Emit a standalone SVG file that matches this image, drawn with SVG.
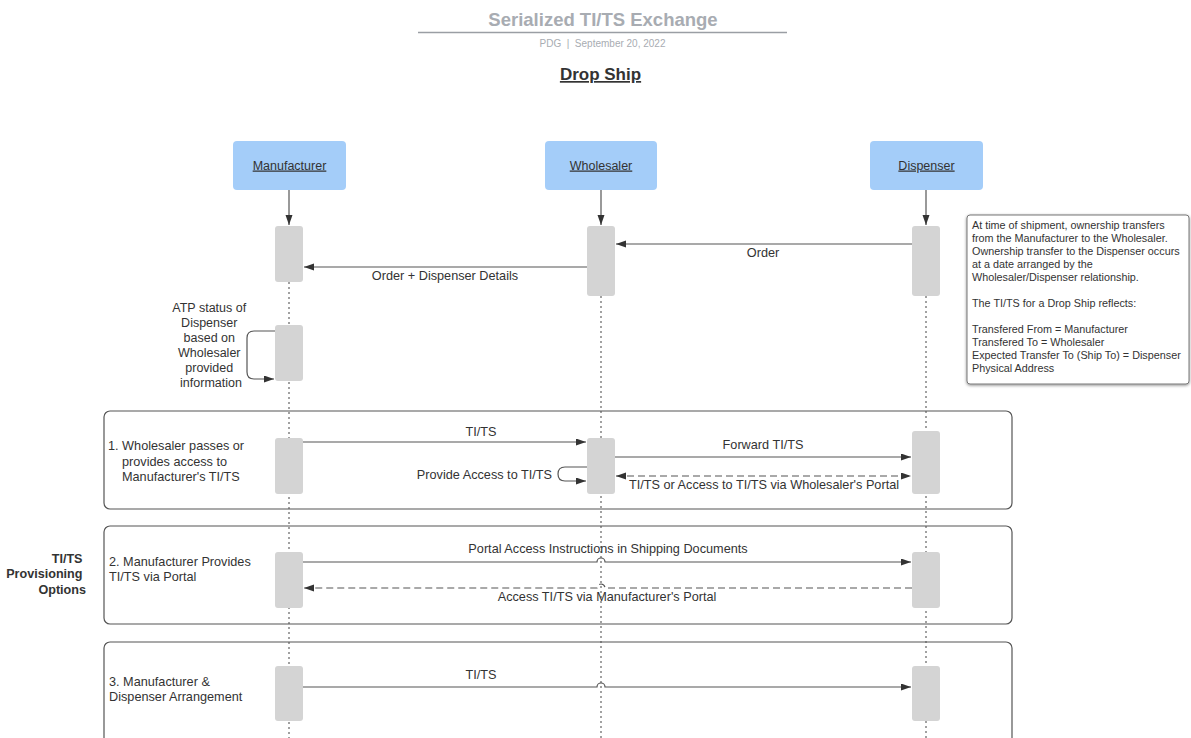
<svg xmlns="http://www.w3.org/2000/svg" width="1191" height="738" viewBox="0 0 1191 738">
<style>
text{font-family:"Liberation Sans",Arial,sans-serif;fill:#333}
.hdr{fill:#a4cdf9}
.hdrt{font-size:12.5px;text-anchor:middle;text-decoration:underline}
.act{fill:#d4d4d4}
.life{stroke:#555;stroke-width:1.1;stroke-dasharray:2 3;fill:none}
.msg{stroke:#555;stroke-width:1.2;fill:none;marker-end:url(#ah)}
.dash{stroke-dasharray:7 4}
.lbl{font-size:12.7px;text-anchor:middle}
.sec{fill:none;stroke:#555;stroke-width:1.2}
.st{font-size:12.7px}
.note{font-size:10.8px}
</style>
<defs>
<marker id="ah" markerUnits="userSpaceOnUse" markerWidth="11" markerHeight="8" refX="10" refY="3.5" orient="auto-start-reverse">
<path d="M0,0 L10,3.5 L0,7 z" fill="#333"/>
</marker>
<filter id="sh" x="-10%" y="-10%" width="120%" height="120%">
<feDropShadow dx="0" dy="1" stdDeviation="1.5" flood-color="#000" flood-opacity="0.45"/>
</filter>
</defs>
<rect width="1191" height="738" fill="#fff"/>

<g id="title">
<text x="603" y="26" font-size="18.5" font-weight="bold" text-anchor="middle" style="fill:#a8acb2">Serialized TI/TS Exchange</text>
<line x1="418" y1="32.5" x2="787" y2="32.5" stroke="#9a9ea4" stroke-width="1.5"/>
<text x="602.5" y="46.5" font-size="10" text-anchor="middle" xml:space="preserve" style="fill:#a8acb2">PDG  |  September 20, 2022</text>
<text x="600.5" y="80" font-size="17" font-weight="bold" text-anchor="middle" text-decoration="underline">Drop Ship</text>
</g>

<g id="sections">
<rect id="section1" class="sec" x="104" y="411" width="908" height="98" rx="6"/>
<rect id="section2" class="sec" x="104" y="526" width="908" height="98" rx="6"/>
<rect id="section3" class="sec" x="104" y="642" width="908" height="120" rx="6"/>
</g>

<g id="lifelines">
<line class="life" x1="289" y1="282" x2="289" y2="738"/>
<line class="life" x1="601" y1="296" x2="601" y2="738"/>
<line class="life" x1="926" y1="296" x2="926" y2="738"/>
</g>

<g id="manufacturer">
<rect class="hdr" x="233" y="141" width="113" height="49" rx="4"/>
<text class="hdrt" x="289.5" y="169.5">Manufacturer</text>
</g>
<g id="wholesaler">
<rect class="hdr" x="545" y="141" width="112" height="49" rx="4"/>
<text class="hdrt" x="601" y="169.5">Wholesaler</text>
</g>
<g id="dispenser">
<rect class="hdr" x="870" y="141" width="113" height="49" rx="4"/>
<text class="hdrt" x="926.5" y="169.5">Dispenser</text>
</g>

<g id="activations">
<rect class="act" x="275" y="226" width="28" height="56" rx="3"/>
<rect class="act" x="587" y="226" width="28" height="70" rx="3"/>
<rect class="act" x="912" y="226" width="28" height="70" rx="3"/>
<rect class="act" x="275" y="325" width="28" height="56" rx="3"/>
<rect class="act" x="275" y="438" width="28" height="56" rx="3"/>
<rect class="act" x="587" y="438" width="28" height="56" rx="3"/>
<rect class="act" x="912" y="431" width="28" height="63" rx="3"/>
<rect class="act" x="275" y="552" width="28" height="56" rx="3"/>
<rect class="act" x="912" y="552" width="28" height="56" rx="3"/>
<rect class="act" x="275" y="666" width="28" height="55" rx="3"/>
<rect class="act" x="912" y="666" width="28" height="55" rx="3"/>
</g>

<g id="connectors">
<path class="msg" d="M289 190 L289 225"/>
<path class="msg" d="M601 190 L601 225"/>
<path class="msg" d="M926 190 L926 225"/>
<path class="msg" d="M912 244 L616 244"/>
<path class="msg" d="M587 267 L304 267"/>
<path class="msg" d="M275 331 L254 331 Q247 331 247 338 L247 372 Q247 379 254 379 L274 379"/>
<path class="msg" d="M303 442 L586 442"/>
<path class="msg" d="M615 457 L911 457"/>
<path class="msg" d="M587 467 L565 467 Q558 467 558 474 Q558 481 565 481 L586 481"/>
<path class="msg dash" style="marker-start:url(#ah)" d="M616 476 L911 476"/>
<path class="msg" d="M303 562 L597 562 A4 4 0 0 1 605 562 L911 562"/>
<path class="msg dash" d="M912 588 L605 588 A4 4 0 0 0 597 588 L304 588"/>
<path class="msg" d="M303 687 L597 687 A4 4 0 0 1 605 687 L911 687"/>
</g>

<g id="labels">
<text class="lbl" x="763" y="257">Order</text>
<text class="lbl" x="445" y="280">Order + Dispenser Details</text>
<text class="lbl" x="481" y="436">TI/TS</text>
<text class="lbl" x="763" y="449">Forward TI/TS</text>
<text class="lbl" x="552" y="478.5" style="text-anchor:end">Provide Access to TI/TS</text>
<text class="lbl" x="764" y="489">TI/TS or Access to TI/TS via Wholesaler's Portal</text>
<text class="lbl" x="608" y="553">Portal Access Instructions in Shipping Documents</text>
<text class="lbl" x="607" y="601">Access TI/TS via Manufacturer's Portal</text>
<text class="lbl" x="481" y="679">TI/TS</text>
</g>

<g id="atp-note">
<text font-size="12.5" text-anchor="middle">
<tspan x="211" y="311.5">ATP status of</tspan>
<tspan x="211" y="326.5">Dispenser</tspan>
<tspan x="211" y="341.5">based on</tspan>
<tspan x="211" y="356.5">Wholesaler</tspan>
<tspan x="211" y="372">provided</tspan>
<tspan x="211" y="387">information</tspan>
</text>
</g>

<g id="section-texts">
<text class="st" x="108" y="450">1. Wholesaler passes or</text>
<text class="st" x="122" y="466">provides access to</text>
<text class="st" x="122" y="481">Manufacturer's TI/TS</text>
<text class="st" x="109" y="566">2. Manufacturer Provides</text>
<text class="st" x="109" y="581">TI/TS via Portal</text>
<text class="st" x="109" y="686">3. Manufacturer &amp;</text>
<text class="st" x="109" y="701">Dispenser Arrangement</text>
</g>

<g id="provisioning-label">
<text font-size="12.6" font-weight="bold" text-anchor="end">
<tspan x="86" y="562.5">TI/TS</tspan>
<tspan x="86" y="578">Provisioning</tspan>
<tspan x="86" y="593.5">Options</tspan>
</text>
</g>

<g id="ownership-note">
<rect x="967" y="215" width="222" height="169" rx="3" fill="#fff" stroke="#777" stroke-width="1" filter="url(#sh)"/>
<text class="note">
<tspan x="972" y="229">At time of shipment, ownership transfers</tspan>
<tspan x="972" y="242">from the Manufacturer to the Wholesaler.</tspan>
<tspan x="972" y="255">Ownership transfer to the Dispenser occurs</tspan>
<tspan x="972" y="268">at a date arranged by the</tspan>
<tspan x="972" y="281">Wholesaler/Dispenser relationship.</tspan>
<tspan x="972" y="307">The TI/TS for a Drop Ship reflects:</tspan>
<tspan x="972" y="333">Transfered From = Manufacturer</tspan>
<tspan x="972" y="346">Transfered To = Wholesaler</tspan>
<tspan x="972" y="359">Expected Transfer To (Ship To) = Dispenser</tspan>
<tspan x="972" y="372">Physical Address</tspan>
</text>
</g>
</svg>
